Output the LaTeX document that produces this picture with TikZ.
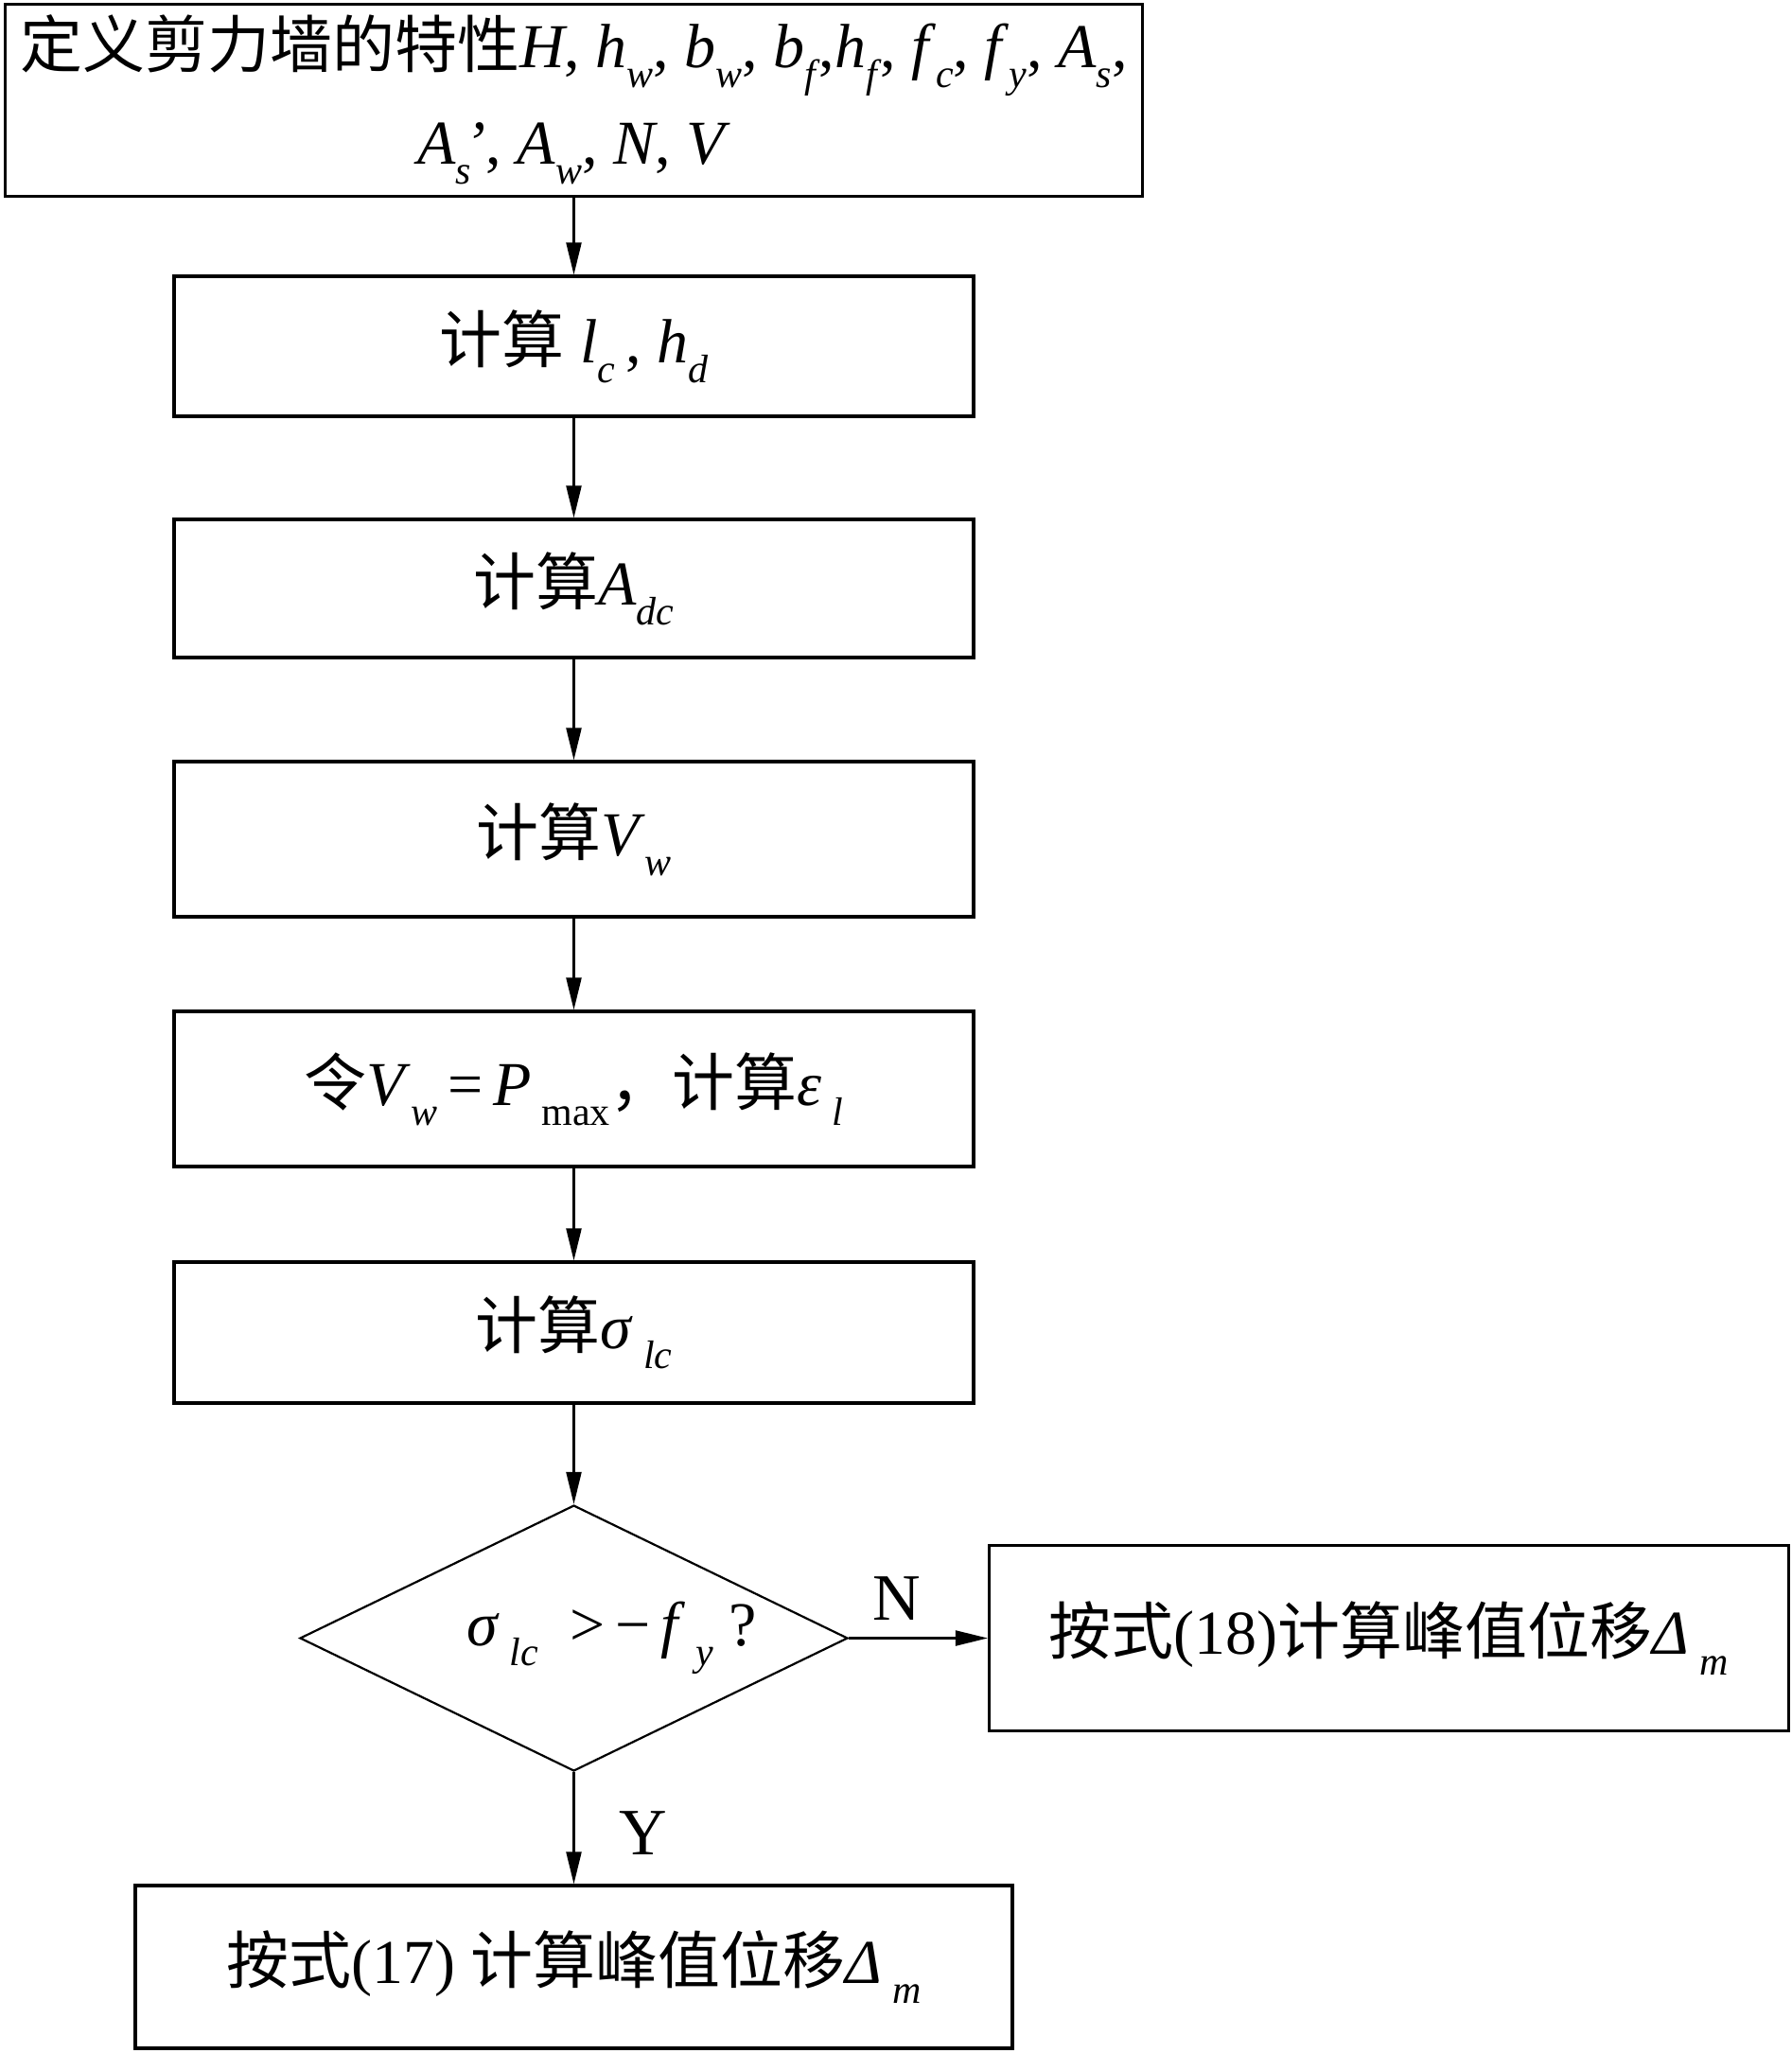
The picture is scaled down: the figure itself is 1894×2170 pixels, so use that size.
\documentclass[tikz,border=0pt]{standalone}
\usepackage{fontspec}
\setmainfont{Liberation Serif}
\newfontfamily\cjk{Noto Sans CJK SC}
\usetikzlibrary{arrows.meta,shapes.geometric}
\newcommand{\subs}[1]{\raisebox{-0.32em}{\fontsize{21pt}{21pt}\selectfont\itshape #1}}
\newcommand{\vi}[1]{\textit{#1}}
\tikzset{
  txt/.style={font=\fontsize{33pt}{46pt}\selectfont, align=center},
  box/.style={txt, draw, line width=1.6pt, inner sep=0pt},
  dia/.style={txt, draw, shape=diamond, aspect=2.06, line width=1.1pt, inner sep=0pt},
  arr/.style={line width=1.1pt, -{Triangle[length=17pt,width=8pt]}},
  lbl/.style={font=\fontsize{35pt}{40pt}\selectfont}
}
\begin{document}
\begin{tikzpicture}[x=0.5pt,y=-0.5pt]
\useasboundingbox (0,0) rectangle (1894,2170);
\node[box, minimum width=601pt, minimum height=101.5pt] (n1) at (606.5,106)
  {\raisebox{0pt}[0.8em][0.3em]{{\cjk 定义剪力墙的特性}\vi{H}, \vi{h}\subs{w}, \vi{b}\subs{w}, \vi{b}\subs{f}\kern0.05em,\vi{h}\subs{f}\kern0.05em, \vi{f}\subs{c}, \vi{f}\subs{y}, \vi{A}\subs{s},}\\[5pt]
   \raisebox{0pt}[0.8em][0.3em]{\vi{A}\subs{s}\kern-0.1em\vi{'}, \vi{A}\subs{w}, \vi{N}, \vi{V}}};
\node[box, minimum width=422.5pt, minimum height=74pt] (n2) at (606.5,366)
  {{\cjk 计算} \vi{l}\subs{c}\,, \vi{h}\subs{d}};
\node[box, minimum width=422.5pt, minimum height=73pt] (n3) at (606.5,622)
  {{\cjk 计算}\vi{A}\subs{dc}};
\node[box, minimum width=422.5pt, minimum height=82pt] (n4) at (606.5,887)
  {{\cjk 计算}\vi{V}\subs{w}};
\node[box, minimum width=422.5pt, minimum height=82pt] (n5) at (606.5,1151)
  {{\cjk 令}\vi{V}\subs{w}\,=\,\vi{P}\,\subs{\upshape max}{\cjk ，计算}\vi{ε}\,\subs{l}};
\node[box, minimum width=422.5pt, minimum height=74.5pt] (n6) at (606.5,1408.5)
  {{\cjk 计算}\vi{σ}\,\subs{lc}};
\node[dia, minimum width=289.5pt, minimum height=140.5pt] (d) at (606.5,1731.5)
  {\hspace{40pt}\vi{σ}\,\subs{lc}\enspace>\,−\,\vi{f}\,\subs{y}\ ?};
\node[box, minimum width=422.5pt, minimum height=98pt] (r) at (1468,1731.5)
  {{\cjk 按式}(18){\cjk 计算峰值位移}\vi{Δ}\,\subs{m}};
\node[box, minimum width=463.5pt, minimum height=86pt] (b) at (606.5,2079)
  {{\cjk 按式}(17) {\cjk 计算峰值位移}\vi{Δ}\,\subs{m}};
\node[lbl] (ln) at (948,1690) {N};
\node[lbl] (ly) at (680,1938) {Y};
\draw[arr] (n1) -- (n2);
\draw[arr] (n2) -- (n3);
\draw[arr] (n3) -- (n4);
\draw[arr] (n4) -- (n5);
\draw[arr] (n5) -- (n6);
\draw[arr] (n6) -- (d);
\draw[arr] (d.east) -- (r.west);
\draw[arr] (d.south) -- (b.north);
\end{tikzpicture}
\end{document}
